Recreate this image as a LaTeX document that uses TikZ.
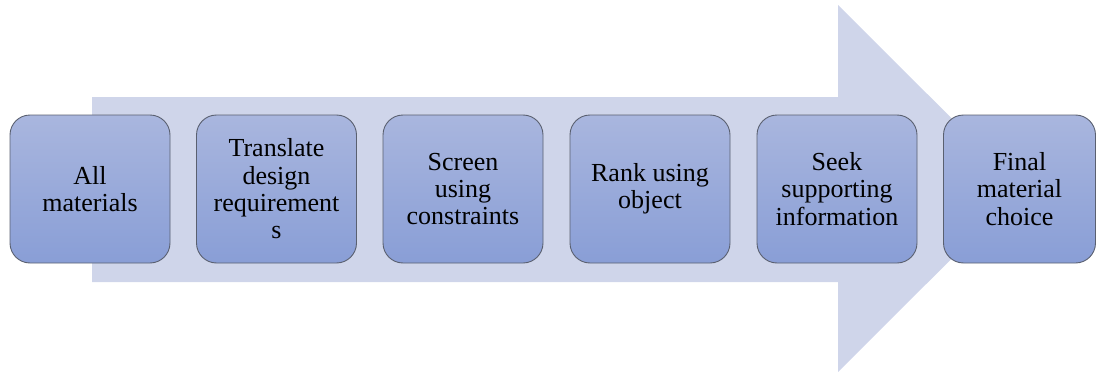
\documentclass[tikz,border=0pt]{standalone}
\usepackage{fontspec}
\setmainfont{Liberation Serif}
\newfontfamily\boxfont{Liberation Serif}
\definecolor{arrowfill}{HTML}{CFD5EA}
\definecolor{boxtop}{HTML}{A9B6DE}
\definecolor{boxbot}{HTML}{899ED6}
\definecolor{boxline}{HTML}{5A6070}
\tikzset{
  stepbox/.style={rectangle, rounded corners=20pt, draw=boxline, line width=0.9pt,
    top color=boxtop, bottom color=boxbot, minimum width=160pt, minimum height=148pt,
    inner sep=0pt, align=center, text=black,
    font=\boxfont\fontsize{26}{27.3}\selectfont},
}
\begin{document}
\begin{tikzpicture}[x=1pt,y=-1pt]
\useasboundingbox (0,0) rectangle (1096,372);
\fill[arrowfill] (92,97) -- (838,97) -- (838,5) -- (1022,188.5) -- (838,372) -- (838,282) -- (92,282) -- cycle;
\node[stepbox] (b1) at (90,189) {All\\materials};
\node[stepbox] (b2) at (276.5,189) {Translate\\design\\requirement\\s};
\node[stepbox] (b3) at (463,189) {Screen\\using\\constraints};
\node[stepbox] (b4) at (650,189) {Rank using\\object};
\node[stepbox] (b5) at (837,189) {Seek\\supporting\\information};
\node[stepbox, minimum width=152pt] (b6) at (1019.5,189) {Final\\material\\choice};
\end{tikzpicture}
\end{document}
